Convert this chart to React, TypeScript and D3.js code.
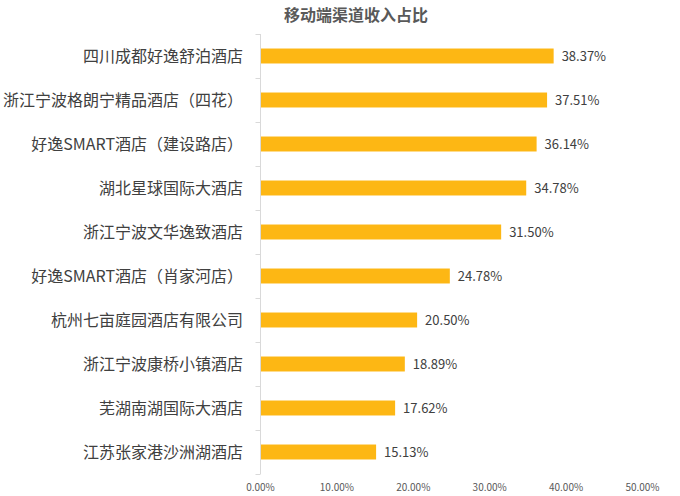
import React, { useRef, useEffect } from "react";
import * as d3 from "d3";

const hotels = [
  "四川成都好逸舒泊酒店",
  "浙江宁波格朗宁精品酒店（四花）",
  "好逸SMART酒店（建设路店）",
  "湖北星球国际大酒店",
  "浙江宁波文华逸致酒店",
  "好逸SMART酒店（肖家河店）",
  "杭州七亩庭园酒店有限公司",
  "浙江宁波康桥小镇酒店",
  "芜湖南湖国际大酒店",
  "江苏张家港沙洲湖酒店",
];
const shares = [38.37, 37.51, 36.14, 34.78, 31.5, 24.78, 20.5, 18.89, 17.62, 15.13];
const xTicks = [0, 10, 20, 30, 40, 50];

const App: React.FC = () => {
  const ref = useRef<SVGSVGElement | null>(null);

  useEffect(() => {
    const svg = d3.select(ref.current);
    svg.selectAll("*").remove();
    const width = 680;
    const height = 496;
    svg.attr("width", width).attr("height", height);

    const font = "'Noto Sans CJK SC', 'Noto Sans', sans-serif";
    const left = 260.5;

    const x = d3.scaleLinear().domain([0, 50]).range([left, 642.5]);
    const y = d3.scaleBand().domain(hotels).range([34, 474]).paddingInner(0.66).paddingOuter(0.33);

    svg
      .append("text")
      .attr("x", 356)
      .attr("y", 21)
      .attr("text-anchor", "middle")
      .attr("font-family", font)
      .attr("font-size", 16)
      .attr("font-weight", "bold")
      .attr("fill", "#595959")
      .text("移动端渠道收入占比");

    // bars
    svg
      .append("g")
      .selectAll("rect")
      .data(shares)
      .enter()
      .append("rect")
      .attr("x", x(0))
      .attr("y", (d, i) => y(hotels[i]) || 0)
      .attr("width", (d) => x(d) - x(0))
      .attr("height", y.bandwidth())
      .attr("fill", "#FDB714");

    // value labels
    svg
      .append("g")
      .selectAll("text")
      .data(shares)
      .enter()
      .append("text")
      .attr("x", (d) => x(d) + 8)
      .attr("y", (d, i) => (y(hotels[i]) || 0) + y.bandwidth() / 2)
      .attr("dy", "0.35em")
      .attr("font-family", font)
      .attr("font-size", 13)
      .attr("fill", "#404040")
      .text((d) => d.toFixed(2) + "%");

    // category axis
    const band = y.step();
    const axis = svg.append("g");
    axis
      .append("line")
      .attr("x1", left)
      .attr("x2", left)
      .attr("y1", 34)
      .attr("y2", 474)
      .attr("stroke", "#D9D9D9");
    axis
      .selectAll("line.tick")
      .data(d3.range(hotels.length + 1))
      .enter()
      .append("line")
      .attr("class", "tick")
      .attr("x1", left - 5)
      .attr("x2", left)
      .attr("y1", (i) => 34 + i * band + 0.5)
      .attr("y2", (i) => 34 + i * band + 0.5)
      .attr("stroke", "#D9D9D9");
    axis
      .selectAll("text")
      .data(hotels)
      .enter()
      .append("text")
      .attr("x", 243)
      .attr("y", (d) => (y(d) || 0) + y.bandwidth() / 2)
      .attr("dy", "0.35em")
      .attr("text-anchor", "end")
      .attr("font-family", font)
      .attr("font-size", 16)
      .attr("fill", "#404040")
      .text((d) => d);

    // value axis labels
    svg
      .append("g")
      .selectAll("text")
      .data(xTicks)
      .enter()
      .append("text")
      .attr("x", (d) => x(d))
      .attr("y", 491)
      .attr("text-anchor", "middle")
      .attr("font-family", font)
      .attr("font-size", 10)
      .attr("fill", "#595959")
      .text((d) => d.toFixed(2) + "%");
  }, []);

  return <svg ref={ref} style={{ position: "absolute", left: 0, top: 0 }}></svg>;
};

export default App;
